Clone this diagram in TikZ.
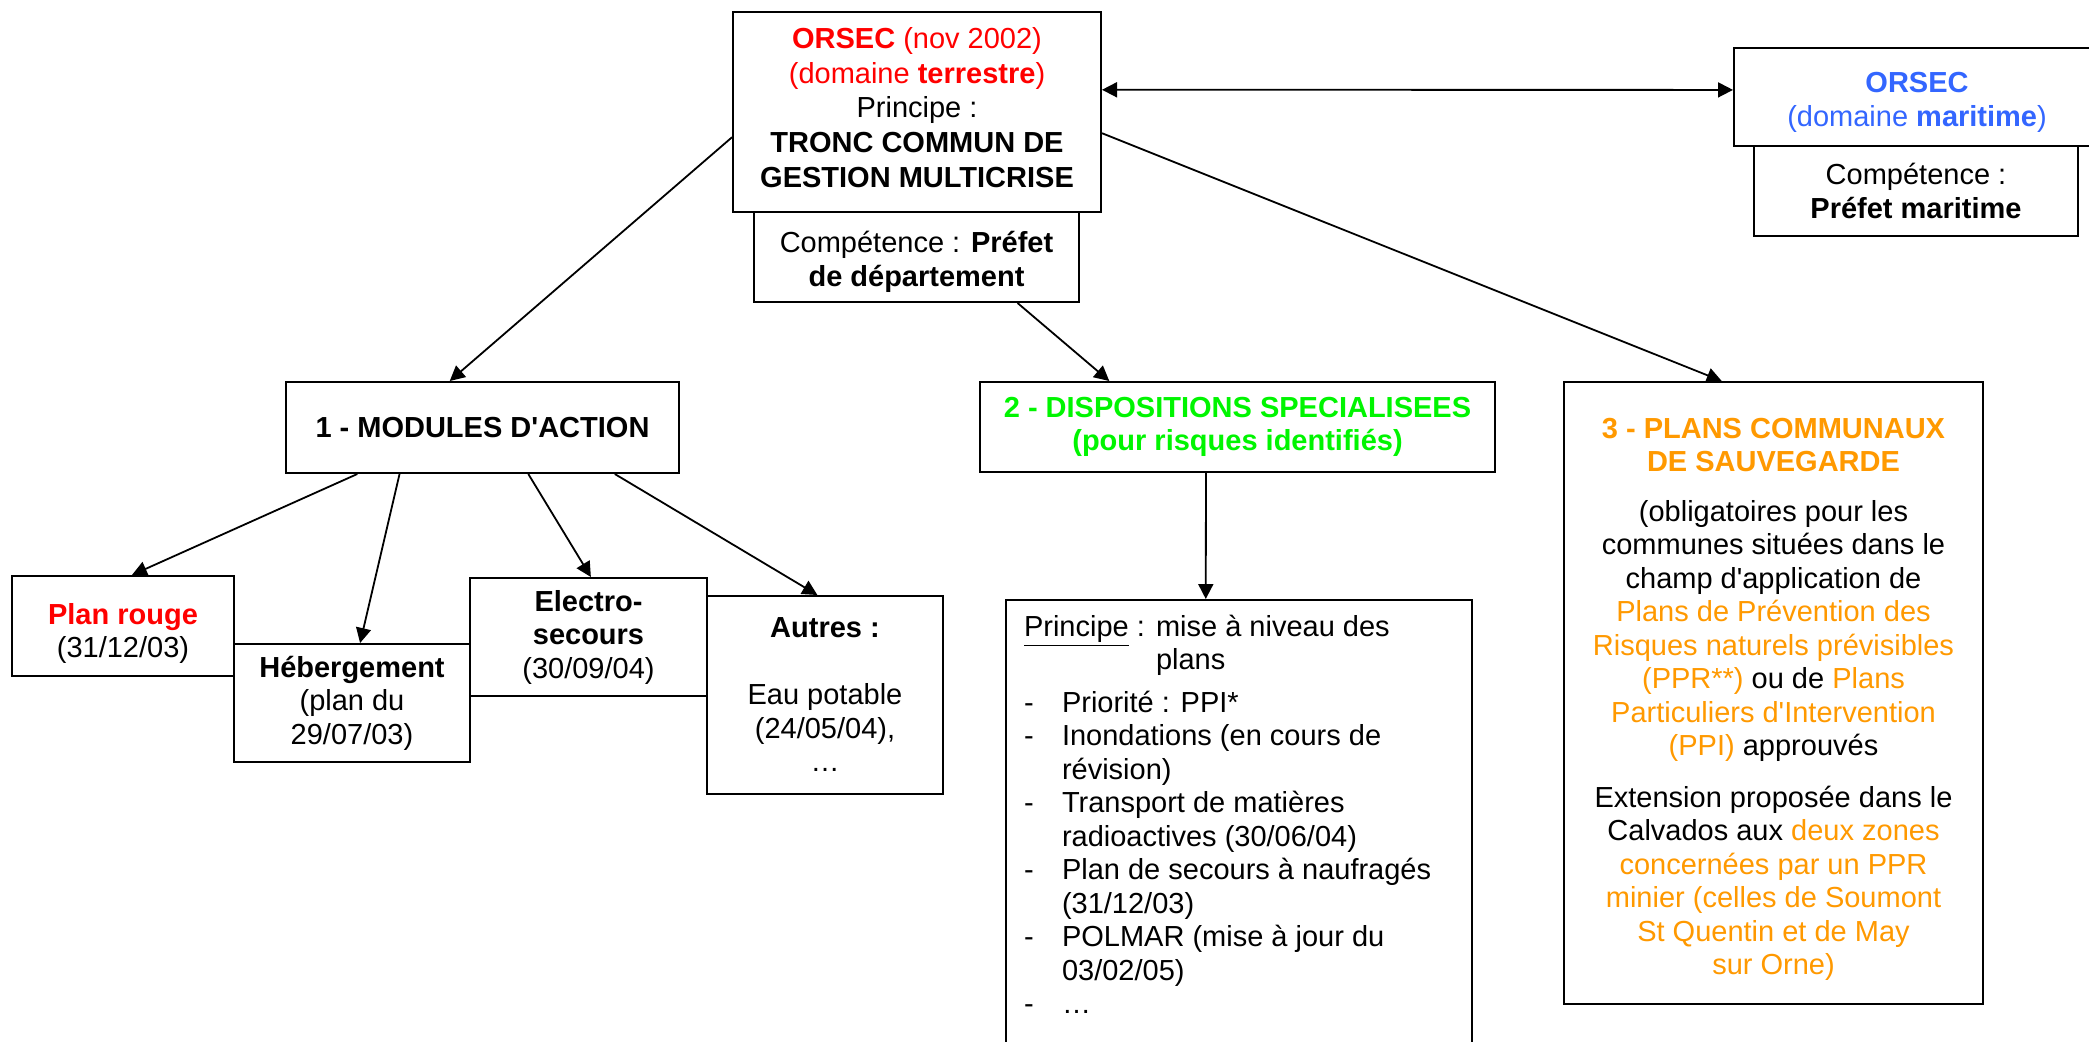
\documentclass[tikz,border=0pt]{standalone}
\usepackage{fontspec}
\setmainfont{Liberation Sans}[Ligatures=TeXOff]
\usetikzlibrary{arrows.meta,calc}
\definecolor{ored}{RGB}{255,0,0}
\definecolor{mblue}{RGB}{51,102,255}
\definecolor{dgreen}{RGB}{0,245,0}
\definecolor{orng}{RGB}{255,153,0}
\newcommand\fs{\fontsize{14.5pt}{16.75pt}\selectfont}
\newcommand\fsb{\fontsize{14.5pt}{17.3pt}\selectfont}
\newcommand\topstrut[1]{\rule{0pt}{#1}}
\newcommand\botstrut[1]{\rule[-#1]{0pt}{0pt}}
\tikzset{
  box/.style={draw, line width=1pt, inner sep=0pt, align=center, font=\fs},
  arr/.style={line width=0.9pt, -{Triangle[length=7.5pt,width=7.5pt]}},
  dbl/.style={line width=0.9pt, {Triangle[length=7.5pt,width=7.5pt]}-{Triangle[length=7.5pt,width=7.5pt]}},
}
\begin{document}
\begin{tikzpicture}[x=0.5pt,y=-0.5pt]
\useasboundingbox (0,0) rectangle (2089,1041);
\fill[white] (0,0) rectangle (2089,1041);
\clip (0,0) rectangle (2089,1041);

% top
\node[box, font=\fsb, minimum width=184pt, minimum height=100pt] (orsec) at (917,112)
  {{\color{ored}\textbf{ORSEC} (nov 2002)}\\
   {\color{ored}(domaine \textbf{terrestre})}\\
   Principe :\\
   \textbf{TRONC COMMUN DE}\\
   \textbf{GESTION MULTICRISE}\botstrut{4.7pt}};
\node[box, minimum width=162.5pt, minimum height=45pt] (compT) at (916.5,257)
  {\topstrut{15.7pt}Compétence : \textbf{Préfet}\\ \textbf{de département}};
\node[box, minimum width=183pt, minimum height=49pt] (mar) at (1917,97)
  {\topstrut{15.4pt}{\color{mblue}\textbf{ORSEC}}\\ {\color{mblue}(domaine \textbf{maritime})}};
\node[box, minimum width=162pt, minimum height=45pt] (compM) at (1916,191)
  {Compétence :\\ \textbf{Préfet maritime}};

% level 2
\node[box, minimum width=196.5pt, minimum height=45.5pt] (mod) at (482.5,427.5)
  {\textbf{1 - MODULES D'ACTION}};
\node[box, minimum width=257.5pt, minimum height=45pt, text=dgreen] (disp) at (1237.5,427)
  {\textbf{2 - DISPOSITIONS SPECIALISEES}\\ \textbf{(pour risques identifiés)}};
\node[box, minimum width=209.5pt, minimum height=311pt] (plans) at (1773.5,693)
  {\topstrut{16.5pt}{\color{orng}\textbf{3 - PLANS COMMUNAUX}}\\
   {\color{orng}\textbf{DE SAUVEGARDE}}\\[8pt]
   (obligatoires pour les\\
   communes situées dans le\\
   champ d'application de\\
   {\color{orng}Plans de Prévention des}\\
   {\color{orng}Risques naturels prévisibles}\\
   {\color{orng}(PPR**)} ou de {\color{orng}Plans}\\
   {\color{orng}Particuliers d'Intervention}\\
   {\color{orng}(PPI)} approuvés\\[9pt]
   Extension proposée dans le\\
   Calvados aux {\color{orng}deux zones}\\
   {\color{orng}concernées par un PPR}\\
   {\color{orng}minier (celles de Soumont}\\
   {\color{orng}St Quentin et de May}\\
   {\color{orng}sur Orne)}};

% level 3 (modules)
\node[box, minimum width=111pt, minimum height=50pt] (rouge) at (123,626)
  {\topstrut{17.9pt}{\color{ored}\textbf{Plan rouge}}\\(31/12/03)};
\node[box, minimum width=118pt, minimum height=59pt] (heb) at (352,703)
  {\textbf{Hébergement}\\(plan du\\29/07/03)};
\node[box, minimum width=118.5pt, minimum height=59pt] (elec) at (588.5,637)
  {\textbf{Electro-}\\\textbf{secours}\\(30/09/04)};
\node[box, minimum width=118pt, minimum height=99pt] (autres) at (825,695)
  {\textbf{Autres :}\\[16.75pt]Eau potable\\(24/05/04),\\…};

% principe box
\node[draw, line width=1pt, font=\fs, anchor=north, inner xsep=9pt, inner ysep=7.4pt,
      minimum width=233pt] (pr) at (1239,599)
  {\begin{minipage}[t]{215pt}\raggedright\setlength\parindent{0pt}%
   \hangindent=66pt\hangafter=1 \makebox[66pt][l]{\underline{Principe} :}mise à niveau des\newline plans\par
   \vspace{4.5pt}%
   \hangindent=19pt\hangafter=1 \makebox[19pt][l]{-}Priorité : PPI*\par
   \hangindent=19pt\hangafter=1 \makebox[19pt][l]{-}Inondations (en cours de\newline révision)\par
   \hangindent=19pt\hangafter=1 \makebox[19pt][l]{-}Transport de matières\newline radioactives (30/06/04)\par
   \hangindent=19pt\hangafter=1 \makebox[19pt][l]{-}Plan de secours à naufragés\newline (31/12/03)\par
   \hangindent=19pt\hangafter=1 \makebox[19pt][l]{-}POLMAR (mise à jour du\newline 03/02/05)\par
   \hangindent=19pt\hangafter=1 \makebox[19pt][l]{-}…\par
   \vspace*{20pt}%
   \end{minipage}};

% connectors
\draw[dbl] ($(orsec.north east)!0.39!(orsec.south east)$) -- ($(mar.north west)!0.429!(mar.south west)$);
\draw[arr] ($(orsec.north west)!0.625!(orsec.south west)$) -- ($(mod.north west)!0.417!(mod.north east)$);
\draw[arr] ($(orsec.north east)!0.605!(orsec.south east)$) -- ($(plans.north west)!0.377!(plans.north east)$);
\draw[arr] ($(compT.south west)!0.809!(compT.south east)$) -- ($(disp.north west)!0.252!(disp.north east)$);
\draw[arr] ($(disp.south west)!0.439!(disp.south east)$) -- ($(pr.north west)!0.429!(pr.north east)$);
\draw[arr] ($(mod.south west)!0.183!(mod.south east)$) -- ($(rouge.north west)!0.54!(rouge.north east)$);
\draw[arr] ($(mod.south west)!0.290!(mod.south east)$) -- ($(heb.north west)!0.534!(heb.north east)$);
\draw[arr] ($(mod.south west)!0.616!(mod.south east)$) -- ($(elec.north west)!0.51!(elec.north east)$);
\draw[arr] ($(mod.south west)!0.835!(mod.south east)$) -- ($(autres.north west)!0.468!(autres.north east)$);
\end{tikzpicture}
\end{document}
